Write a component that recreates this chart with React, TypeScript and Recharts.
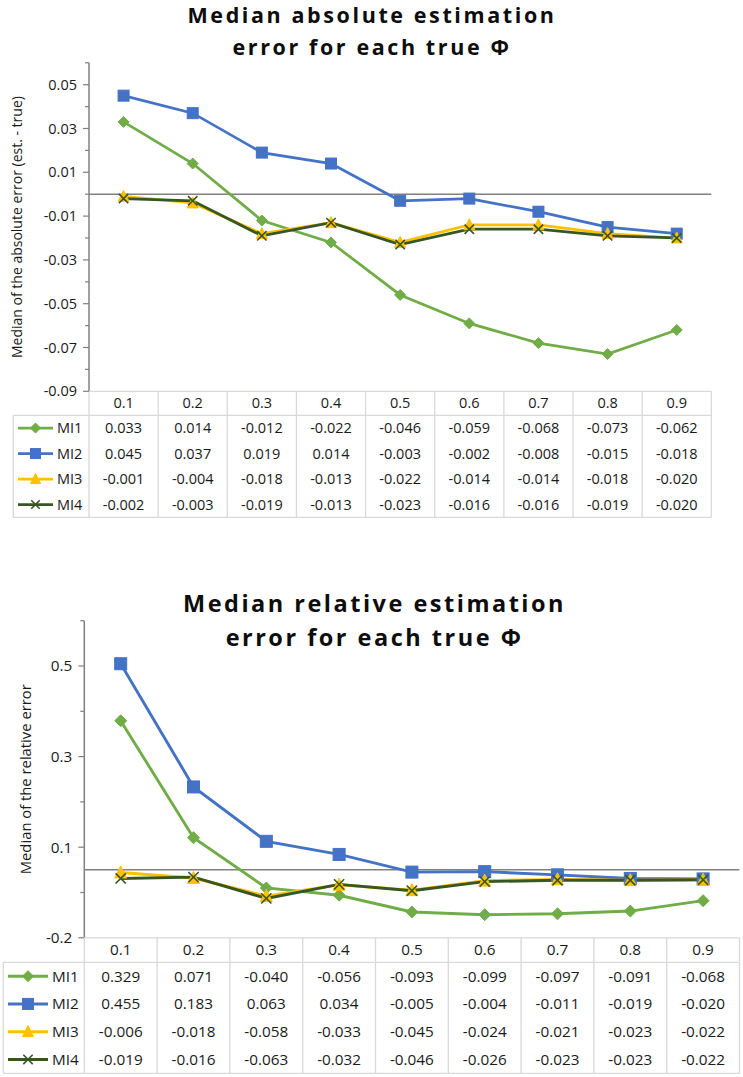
import React from 'react';
import { LineChart, Line, XAxis, YAxis, ReferenceLine } from 'recharts';

// ---------- DATA ----------
const categories = ['0.1', '0.2', '0.3', '0.4', '0.5', '0.6', '0.7', '0.8', '0.9'];
const seriesNames = ['MI1', 'MI2', 'MI3', 'MI4'];

// Chart 1: median absolute estimation error
const absMI1 = [0.033, 0.014, -0.012, -0.022, -0.046, -0.059, -0.068, -0.073, -0.062];
const absMI2 = [0.045, 0.037, 0.019, 0.014, -0.003, -0.002, -0.008, -0.015, -0.018];
const absMI3 = [-0.001, -0.004, -0.018, -0.013, -0.022, -0.014, -0.014, -0.018, -0.02];
const absMI4 = [-0.002, -0.003, -0.019, -0.013, -0.023, -0.016, -0.016, -0.019, -0.02];

// Chart 2: median relative estimation error
const relMI1 = [0.329, 0.071, -0.04, -0.056, -0.093, -0.099, -0.097, -0.091, -0.068];
const relMI2 = [0.455, 0.183, 0.063, 0.034, -0.005, -0.004, -0.011, -0.019, -0.02];
const relMI3 = [-0.006, -0.018, -0.058, -0.033, -0.045, -0.024, -0.021, -0.023, -0.022];
const relMI4 = [-0.019, -0.016, -0.063, -0.032, -0.046, -0.026, -0.023, -0.023, -0.022];

// Axis ticks and labels
const absDomain = [-0.09, 0.06];
const absMajorTicks = [-0.09, -0.07, -0.05, -0.03, -0.01, 0.01, 0.03, 0.05];
const absMajorLabels = ['-0.09', '-0.07', '-0.05', '-0.03', '-0.01', '0.01', '0.03', '0.05'];
const absMinorTicks = [-0.08, -0.06, -0.04, -0.02, 0, 0.02, 0.04, 0.06];

const relDomain = [-0.15, 0.55];
const relMajorTicks = [-0.15, 0.05, 0.25, 0.45];
const relMajorLabels = ['-0.2', '0.1', '0.3', '0.5'];
const relMinorTicks = [-0.05, 0.15, 0.35, 0.55];

const absTitle = ['Median absolute estimation', 'error for each true Φ'];
const relTitle = ['Median relative estimation', 'error for each true Φ'];
const absYTitle = 'Median of the absolute error (est. - true)';
const relYTitle = 'Median of the relative error';

// ---------- STYLES ----------
const seriesStyles = [
  { color: '#70AD47', marker: 'diamond' },
  { color: '#4472C4', marker: 'square' },
  { color: '#FFC000', marker: 'triangle' },
  { color: '#375623', marker: 'x' },
];

const FONT = '"Open Sans", "Noto Sans", sans-serif';
const GRID = '#D9D9D9';
const AXIS = '#808080';
const EXTRA = 16;

function Marker({ kind, cx, cy, size, color }: any) {
  const h = size / 2;
  if (kind === 'diamond') {
    return (
      <polygon
        points={`${cx},${cy - h} ${cx + h},${cy} ${cx},${cy + h} ${cx - h},${cy}`}
        fill={color}
        stroke={color}
        strokeWidth={1}
      />
    );
  }
  if (kind === 'square') {
    return <rect x={cx - h} y={cy - h} width={size} height={size} fill={color} stroke={color} strokeWidth={1} />;
  }
  if (kind === 'triangle') {
    return (
      <polygon
        points={`${cx},${cy - h * 1.1} ${cx + h},${cy + h * 0.9} ${cx - h},${cy + h * 0.9}`}
        fill={color}
        stroke={color}
        strokeWidth={1}
      />
    );
  }
  const k = h * 0.85;
  return (
    <g stroke={color} strokeWidth={1.6}>
      <line x1={cx - k} y1={cy - k} x2={cx + k} y2={cy + k} />
      <line x1={cx - k} y1={cy + k} x2={cx + k} y2={cy - k} />
    </g>
  );
}

function Panel({ cfg, values, domain, majorTicks, majorLabels, minorTicks, titleLines, yTitle }: any) {
  const data = categories.map((c, i) => {
    const row: any = { cat: c };
    seriesNames.forEach((s, k) => {
      row[s] = values[k][i];
    });
    return row;
  });
  const allTicks = [...majorTicks, ...minorTicks].sort((a, b) => a - b);
  const colW = (cfg.plotRight - cfg.plotLeft) / categories.length;
  const T = cfg.top;
  const chartH = cfg.plotBottom - T + EXTRA;

  const renderTick = (props: any) => {
    const { y, payload } = props;
    const v = payload.value;
    const mi = majorTicks.findIndex((t: number) => Math.abs(t - v) < 1e-9);
    const major = mi >= 0;
    return (
      <g>
        <line x1={cfg.plotLeft - (major ? 6 : 4)} x2={cfg.plotLeft} y1={y} y2={y} stroke={AXIS} strokeWidth={1.2} />
        {major && (
          <text
            x={cfg.plotLeft - 12}
            y={y}
            dy="0.35em"
            textAnchor="end"
            fontFamily={FONT}
            fontSize={cfg.tickFont}
            fill="#1a1a1a"
          >
            {majorLabels[mi]}
          </text>
        )}
      </g>
    );
  };

  const headerTop = cfg.plotBottom - T;
  const headerBottom = headerTop + cfg.headerH;
  const tableBottom = headerBottom + cfg.rowH * seriesNames.length;
  const legendLeft = cfg.legendLeft;
  const plotL = cfg.plotLeft;
  const plotR = cfg.plotRight;

  return (
    <div style={{ position: 'absolute', left: 0, top: T, width: 743, height: cfg.height }}>
      <div style={{ position: 'absolute', left: 0, top: 0 }}>
        <LineChart
          width={743}
          height={chartH}
          data={data}
          margin={{ top: cfg.plotTop - T, right: 743 - cfg.plotRight, left: 0, bottom: EXTRA }}
        >
          <XAxis dataKey="cat" hide padding={{ left: colW / 2, right: colW / 2 }} />
          <YAxis
            type="number"
            domain={domain}
            ticks={allTicks}
            interval={0}
            allowDataOverflow
            width={cfg.plotLeft}
            tickLine={false}
            axisLine={{ stroke: AXIS, strokeWidth: 1.5 }}
            tick={renderTick}
          />
          <ReferenceLine y={0} stroke={AXIS} strokeWidth={1.5} />
          {seriesNames.map((s, k) => {
            const st = seriesStyles[k];
            return (
              <Line
                key={s}
                type="linear"
                dataKey={s}
                stroke={st.color}
                strokeWidth={cfg.lineW}
                isAnimationActive={false}
                activeDot={false}
                dot={(p: any) => (
                  <g key={`${s}-${p.index}`}>
                    <Marker kind={st.marker} cx={p.cx} cy={p.cy} size={cfg.markerSize} color={st.color} />
                  </g>
                )}
              />
            );
          })}
        </LineChart>
      </div>
      <svg
        style={{ position: 'absolute', left: 0, top: 0, pointerEvents: 'none' }}
        width={743}
        height={cfg.height}
      >
        {titleLines.map((t: string, i: number) => (
          <text
            key={t}
            x={cfg.titleX}
            y={cfg.titleBaselines[i] - T}
            textAnchor="middle"
            fontFamily={FONT}
            fontWeight={700}
            fontSize={cfg.titleFont}
            letterSpacing={cfg.titleSpacing}
            fill="#0d0d0d"
          >
            {t}
          </text>
        ))}
        <text
          transform={`translate(${cfg.yTitleX}, ${(cfg.plotTop + cfg.plotBottom) / 2 - T}) rotate(-90)`}
          textAnchor="middle"
          dy="0.35em"
          fontFamily={FONT}
          fontSize={cfg.yTitleFont}
          fill="#1a1a1a"
        >
          {yTitle}
        </text>

        {/* data table grid */}
        <g stroke={GRID} strokeWidth={1.3}>
          <line x1={plotL} x2={plotR} y1={headerTop} y2={headerTop} />
          <line x1={legendLeft} x2={plotR} y1={headerBottom} y2={headerBottom} />
          <line x1={legendLeft} x2={plotR} y1={tableBottom} y2={tableBottom} />
          <line x1={legendLeft} x2={legendLeft} y1={headerBottom} y2={tableBottom} />
          {categories.map((c, i) => (
            <line key={c} x1={plotL + (i + 1) * colW} x2={plotL + (i + 1) * colW} y1={headerTop} y2={tableBottom} />
          ))}
          <line x1={plotL} x2={plotL} y1={headerTop + 1} y2={tableBottom} />
        </g>
        {categories.map((c, i) => (
          <text
            key={c}
            x={plotL + (i + 0.5) * colW}
            y={headerTop + cfg.headerH / 2}
            dy="0.35em"
            textAnchor="middle"
            fontFamily={FONT}
            fontSize={cfg.tableFont}
            fill="#1a1a1a"
          >
            {c}
          </text>
        ))}
        {seriesNames.map((s, r) => {
          const cy = headerBottom + cfg.rowH * (r + 0.5);
          const st = seriesStyles[r];
          const lx1 = legendLeft + 4.7;
          const lx2 = lx1 + cfg.legendLineLen;
          return (
            <g key={s}>
              <line x1={lx1} x2={lx2} y1={cy} y2={cy} stroke={st.color} strokeWidth={cfg.lineW} />
              <Marker kind={st.marker} cx={(lx1 + lx2) / 2} cy={cy} size={cfg.markerSize - 1} color={st.color} />
              <text
                x={lx2 + 4}
                y={cy}
                dy="0.35em"
                textAnchor="start"
                fontFamily={FONT}
                fontSize={cfg.tableFont}
                fill="#1a1a1a"
              >
                {s}
              </text>
              {values[r].map((v: number, i: number) => (
                <text
                  key={i}
                  x={plotL + (i + 0.5) * colW}
                  y={cy}
                  dy="0.35em"
                  textAnchor="middle"
                  fontFamily={FONT}
                  fontSize={cfg.tableFont}
                  fill="#1a1a1a"
                >
                  {v.toFixed(3)}
                </text>
              ))}
            </g>
          );
        })}
      </svg>
    </div>
  );
}

const cfgAbs = {
  top: 0,
  height: 560,
  plotTop: 62.8,
  plotBottom: 391.3,
  plotLeft: 89,
  plotRight: 711.3,
  headerH: 24,
  rowH: 25.5,
  legendLeft: 13.3,
  legendLineLen: 35,
  tableFont: 14.5,
  tickFont: 14.5,
  titleFont: 21.5,
  titleSpacing: 2.6,
  titleX: 372,
  titleBaselines: [23, 55],
  yTitleX: 17,
  yTitleFont: 14,
  lineW: 2.75,
  markerSize: 11,
};

const cfgRel = {
  top: 570,
  height: 507,
  plotTop: 620.7,
  plotBottom: 937.8,
  plotLeft: 84.3,
  plotRight: 739.5,
  headerH: 24.5,
  rowH: 27.75,
  legendLeft: 3.3,
  legendLineLen: 40,
  tableFont: 15.3,
  tickFont: 15.3,
  titleFont: 23.5,
  titleSpacing: 2.5,
  titleX: 374.5,
  titleBaselines: [612, 645.5],
  yTitleX: 26,
  yTitleFont: 14.8,
  lineW: 2.9,
  markerSize: 12,
};

export default function App() {
  return (
    <div style={{ position: 'absolute', left: 0, top: 0, width: 743, height: 1077, background: '#fff' }}>
      <Panel
        cfg={cfgAbs}
        values={[absMI1, absMI2, absMI3, absMI4]}
        domain={absDomain}
        majorTicks={absMajorTicks}
        majorLabels={absMajorLabels}
        minorTicks={absMinorTicks}
        titleLines={absTitle}
        yTitle={absYTitle}
      />
      <Panel
        cfg={cfgRel}
        values={[relMI1, relMI2, relMI3, relMI4]}
        domain={relDomain}
        majorTicks={relMajorTicks}
        majorLabels={relMajorLabels}
        minorTicks={relMinorTicks}
        titleLines={relTitle}
        yTitle={relYTitle}
      />
    </div>
  );
}
